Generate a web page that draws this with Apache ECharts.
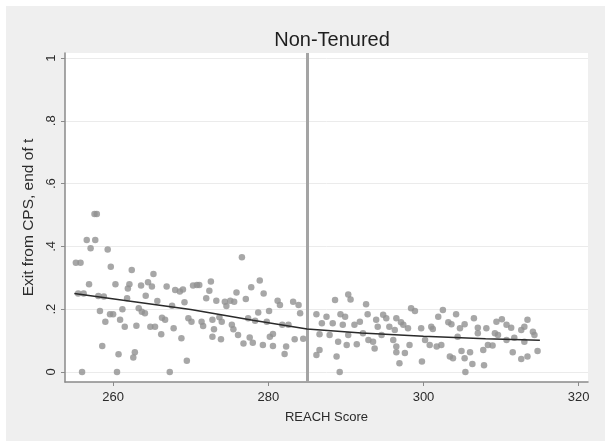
<!DOCTYPE html>
<html>
<head>
<meta charset="utf-8">
<script src="https://cdn.jsdelivr.net/npm/echarts@6/dist/echarts.min.js"></script>
<style>
  html, body { margin: 0; padding: 0; background: #fff; }
  #chart { width: 605px; height: 441px; }
</style>
</head>
<body>
<div id="chart"></div>
<script>
// binned means: REACH score, exit share
const scoreX = [
  257.6, 257.9, 256.6, 257.7, 257.1, 259.3, 255.2, 255.8, 259.7, 262.4, 265.2, 256.9, 260.3, 262.1, 261.9,
  263.6, 264.5, 265.0, 266.9, 268.0, 268.6, 269.0, 270.3, 255.5, 256.2, 258.1, 258.8, 261.8, 264.2, 265.7,
  267.6, 269.2, 258.3, 259.6, 260.0, 261.2, 263.3, 263.7, 264.1, 259.0, 260.9, 261.5, 263.0, 264.8, 265.4,
  266.3, 266.7, 266.2, 267.8, 268.8, 269.7, 270.1, 258.6, 260.7, 262.8, 262.6, 269.5, 256.0, 260.5, 267.3,
  276.6, 270.8, 271.1, 272.6, 272.4, 278.9, 277.8, 279.4, 275.9, 272.0, 273.3, 274.4, 275.1, 275.6, 274.6,
  277.1, 281.2, 281.5, 283.2, 283.9, 284.1, 280.1, 278.7, 271.4, 271.6, 272.8, 273.7, 274.0, 275.3, 275.5,
  277.4, 278.3, 279.8, 273.0, 281.8, 282.6, 272.8, 273.9, 276.1, 276.8, 277.6, 278.0, 279.3, 280.2, 280.6,
  280.6, 282.3, 282.1, 283.4, 284.5,
  290.3, 290.6, 288.6, 292.6, 286.2, 287.5, 289.3, 289.9, 292.8, 298.4, 298.9, 302.5, 301.9, 294.8, 295.2,
  296.5, 297.1, 297.4, 286.9, 288.3, 289.6, 293.9, 294.1, 291.1, 291.8, 295.6, 296.3, 298.0, 299.7, 301.0,
  301.2, 286.6, 287.9, 290.3, 292.2, 292.9, 293.5, 293.7, 294.6, 289.0, 290.1, 291.4, 296.1, 296.5, 298.2,
  300.2, 300.8, 301.7, 286.6, 286.2, 296.5, 297.6, 288.8, 296.9, 299.8, 289.2, 302.3,
  304.2, 306.5, 303.2, 303.6, 305.3, 304.7, 309.4, 310.1, 310.7, 311.3, 313.4, 313.0, 307.0, 307.0, 308.1,
  309.2, 309.6, 312.6, 314.1, 314.3, 304.4, 310.7, 311.7, 313.0, 308.3, 308.9, 307.7, 304.9, 306.0, 303.4,
  303.8, 305.3, 311.5, 314.7, 312.6, 313.4, 306.3, 307.8, 305.4
];
const exitY = [
  .503, .503, .42, .42, .394, .39, .348, .348, .335, .325, .312, .279, .279, .279, .266,
  .275, .286, .272, .272, .261, .256, .263, .275, .25, .25, .242, .24, .235, .243, .226,
  .211, .222, .194, .184, .184, .20, .203, .192, .187, .16, .166, .144, .147, .144, .144,
  .173, .166, .12, .139, .107, .171, .16, .083, .056, .063, .046, .036, 0, 0, 0,
  .365, .277, .277, .288, .259, .291, .27, .25, .253, .235, .227, .224, .227, .224, .21,
  .232, .227, .213, .224, .213, .187, .194, .189, .16, .146, .166, .174, .16, .15, .136,
  .171, .163, .16, .136, .15, .15, .112, .104, .118, .091, .11, .093, .086, .112, .121,
  .083, .081, .057, .104, .106,
  .247, .231, .229, .216, .184, .176, .184, .176, .184, .203, .194, .197, .176, .182, .171,
  .171, .158, .15, .155, .155, .15, .166, .144, .15, .16, .144, .134, .139, .139, .144,
  .137, .12, .118, .118, .123, .102, .096, .075, .118, .096, .086, .088, .102, .081, .086,
  .102, .086, .081, .07, .054, .063, .06, .049, .028, .033, 0, .086,
  .184, .171, .158, .152, .152, .139, .16, .168, .15, .141, .166, .144, .141, .123, .139,
  .123, .118, .134, .128, .118, .112, .102, .109, .096, .086, .084, .07, .067, .063, .049,
  .044, .044, .063, .067, .041, .049, .025, .021, 0
];

// fitted line, left and right of the cutoff
const fitX = [255, 262, 270, 278, 285, 285.2, 292, 300, 308, 315];
const fitY = [0.25, 0.226, 0.199, 0.165, 0.137, 0.134, 0.124, 0.114, 0.106, 0.101];

const cutoff = 285;
const xTicks = [260, 280, 300, 320];
const yTicks = [0, 0.2, 0.4, 0.6, 0.8, 1];

const chart = echarts.init(document.getElementById('chart'));
const font = '"Liberation Sans", Arial, sans-serif';

const option = {
  backgroundColor: '#efefef',
  animation: false,
  graphic: [
    { type: 'rect', left: 0, top: 0, shape: { width: 605, height: 6 }, style: { fill: '#fff' } },
    { type: 'rect', left: 0, top: 0, shape: { width: 6, height: 441 }, style: { fill: '#fff' } }
  ],
  title: {
    text: 'Non-Tenured',
    left: 327,
    textAlign: 'center',
    top: 25,
    textStyle: { fontFamily: font, fontSize: 20, fontWeight: 'normal', color: '#1e1e1e' }
  },
  grid: {
    left: 65,
    right: 17,
    top: 53,
    bottom: 59,
    show: true,
    backgroundColor: '#fff',
    borderWidth: 0
  },
  xAxis: {
    type: 'value',
    min: 253.8,
    max: 321.2,
    name: 'REACH Score',
    nameLocation: 'middle',
    nameGap: 29,
    nameTextStyle: { fontFamily: font, fontSize: 13, color: '#2b2b2b' },
    axisLine: { onZero: false, lineStyle: { color: '#8a8a8a', width: 1.5 } },
    axisTick: { customValues: xTicks, length: 4, lineStyle: { color: '#8a8a8a' } },
    axisLabel: { customValues: xTicks, margin: 9, fontFamily: font, fontSize: 13, color: '#2b2b2b' },
    splitLine: { show: false }
  },
  yAxis: {
    type: 'value',
    min: -0.032,
    max: 1.016,
    name: 'Exit from CPS, end of t',
    nameLocation: 'middle',
    nameGap: 25,
    nameTextStyle: { fontFamily: font, fontSize: 15.5, color: '#2b2b2b' },
    axisLine: { show: true, onZero: false, lineStyle: { color: '#8a8a8a', width: 1.5 } },
    axisTick: { show: true, customValues: yTicks, length: 4, lineStyle: { color: '#8a8a8a' } },
    axisLabel: {
      customValues: yTicks,
      rotate: 90,
      margin: 7,
      fontFamily: font,
      fontSize: 13,
      color: '#2b2b2b',
      formatter: v => v === 0 ? '0' : v === 1 ? '1' : '.' + Math.round(v * 10)
    },
    splitLine: { show: true, lineStyle: { color: '#ebebeb', width: 1 } }
  },
  series: [
    {
      type: 'scatter',
      symbolSize: 6.5,
      itemStyle: { color: '#919191' },
      data: scoreX.map((x, i) => [x, exitY[i]]),
      markLine: {
        silent: true,
        symbol: 'none',
        label: { show: false },
        lineStyle: { color: '#a4a4a4', width: 3, type: 'solid' },
        data: [{ xAxis: cutoff }]
      }
    },
    {
      type: 'line',
      symbol: 'none',
      smooth: false,
      lineStyle: { color: '#2a2a2a', width: 1.5 },
      data: fitX.map((x, i) => [x, fitY[i]]),
      z: 5
    }
  ]
};

chart.setOption(option);
</script>
</body>
</html>
